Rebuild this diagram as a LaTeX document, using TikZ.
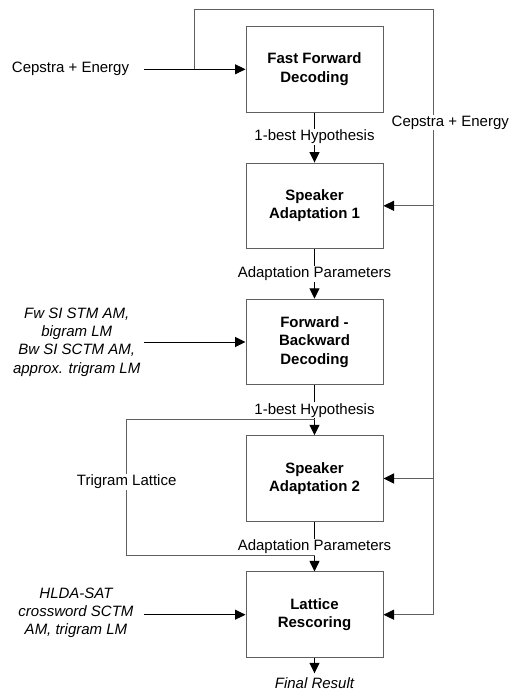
\documentclass[tikz,border=0pt]{standalone}
\usepackage{fontspec}
\setmainfont{Liberation Sans}
\usetikzlibrary{arrows.meta}
\definecolor{lg}{RGB}{95,95,95}
\begin{document}
\begin{tikzpicture}[x=1pt,y=-1pt,
 box/.style={draw=lg, line width=1pt, minimum width=137pt, minimum height=85.5pt, align=center, font=\fontsize{15}{18.3}\selectfont\bfseries, inner sep=0pt},
 lbl/.style={fill=white, inner sep=1pt, font=\fontsize{15}{18.3}\selectfont},
 plain/.style={inner sep=0pt, font=\fontsize{15}{18.3}\selectfont},
 ilbl/.style={align=center, font=\fontsize{15}{18.3}\selectfont\itshape, inner sep=0pt},
 arr/.style={-{Triangle[length=10.5pt,width=10pt,color=black]}, line width=1pt},
 gline/.style={draw=lg, line width=1pt}]
\useasboundingbox (0,0) rectangle (517,691);
\fill[white] (0,0) rectangle (517,691);

% boxes
\node[box] (b1) at (314.5,69.3) {Fast Forward\\Decoding};
\node[box] (b2) at (314.5,205.8) {Speaker\\Adaptation 1};
\node[box] (b3) at (314.5,342) {Forward -\\Backward\\Decoding};
\node[box] (b4) at (314.5,478.5) {Speaker\\Adaptation 2};
\node[box] (b5) at (314.5,614.7) {Lattice\\Rescoring};

% left inputs
\node[plain] (cin) at (70.5,69.3) {Cepstra + Energy};
\coordinate (cin0) at (144,69.3);
\node[ilbl] (in3) at (76.7,342) {Fw SI STM AM,\\bigram LM\\Bw SI SCTM AM,\\approx. trigram LM};
\coordinate (in30) at (144,342);
\node[ilbl] (in5) at (76,612.8) {HLDA-SAT\\crossword SCTM\\AM, trigram LM};
\coordinate (in50) at (144,614.7);

\draw[arr] (cin0) -- (b1.west);
\draw[arr] (in30) -- (b3.west);
\draw[arr] (in50) -- (b5.west);

% feedback loop of features
\coordinate (c0) at (194.7,69.3);
\coordinate (rt) at (433.7,9.3);
\coordinate (r2) at (433.7,205.8);
\coordinate (r4) at (433.7,478.5);
\draw[gline, arr] (c0) |- (rt) |- (b5.east);
\draw[gline, arr] (r2) -- (b2.east);
\draw[gline, arr] (r4) -- (b4.east);
\node[lbl] (cr) at (450.3,122.7) {Cepstra + Energy};

% vertical chain
\draw[arr] (b1.south) -- node[lbl, pos=0.48] (l1) {1-best Hypothesis} (b2.north);
\draw[arr] (b2.south) -- node[lbl, pos=0.5] (l2) {Adaptation Parameters} (b3.north);
\draw[arr] (b3.south) -- node[lbl, pos=0.5] (l3) {1-best Hypothesis} (b4.north);
\draw[arr] (b4.south) -- node[lbl, pos=0.5] (l4) {Adaptation Parameters} (b5.north);

% trigram lattice
\coordinate (tA) at (314.5,419);
\coordinate (tB) at (126.7,419);
\coordinate (tC) at (126.7,555);
\coordinate (tD) at (314.5,555);
\draw[gline] (tA) -- (tB) -- node[lbl, pos=0.46] (tl) {Trigram Lattice} (tC) -- (tD);

% final result
\coordinate (fe) at (314.5,673.3);
\draw[arr] (b5.south) -- (fe);
\node[ilbl] (fr) at (314.5,683.3) {Final Result};
\end{tikzpicture}
\end{document}
